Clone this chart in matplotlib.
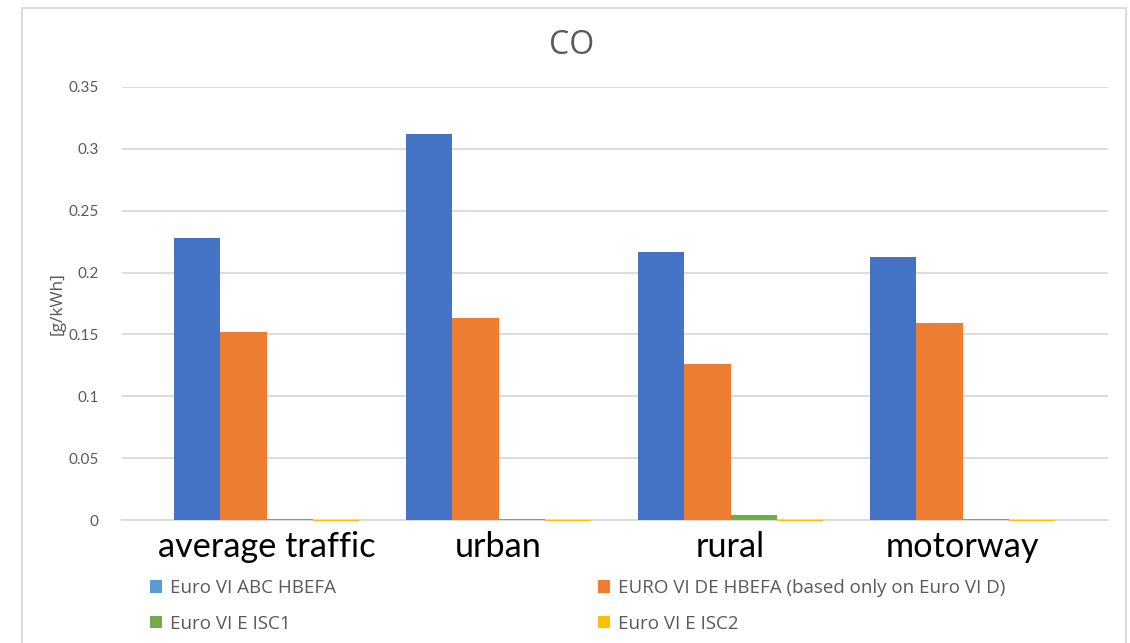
import numpy as np
import matplotlib.pyplot as plt
from matplotlib.lines import Line2D

plt.rcParams['font.family'] = ['Lato', 'DejaVu Sans']

# -------------------------------------------------------------------------

categories = ['average traffic', 'urban', 'rural', 'motorway']

series_names = ['Euro VI ABC HBEFA',
                'EURO VI DE HBEFA (based only on Euro VI D)',
                'Euro VI E ISC1',
                'Euro VI E ISC2']

abc_hbefa = [0.228, 0.312, 0.217, 0.2125]
de_hbefa = [0.152, 0.163, 0.126, 0.1595]
e_isc1 = [0.0007, 0.0007, 0.0042, 0.0006]
e_isc2 = [-0.0008, -0.0008, -0.0011, -0.0006]

yticks = [0, 0.05, 0.1, 0.15, 0.2, 0.25, 0.3, 0.35]
ytick_labels = ['0', '0.05', '0.1', '0.15', '0.2', '0.25', '0.3', '0.35']

# -------------------------------------------------------------------------

colors = ['#4472C4', '#ED7D31', '#70AD47', '#FFC000']
grid = '#d9d9d9'
text_grey = '#595959'
sans = ['Open Sans', 'DejaVu Sans']

fig = plt.figure(figsize=(11.30, 6.43), dpi=100)
ax = fig.add_axes([122/1130., 1 - 520/643., (1108-122)/1130., 433/643.])

x = np.arange(len(categories))
w = 0.2
bars = []
for i, vals in enumerate([abc_hbefa, de_hbefa, e_isc1, e_isc2]):
    b = ax.bar(x + (i - 1.5)*w, vals, w, color=colors[i], label=series_names[i],
               zorder=3, clip_on=False)
    bars.append(b)

ax.set_ylim(0, 0.35)
ax.set_xlim(-0.623, 3.627)
ax.set_yticks(yticks)
ax.set_yticklabels(ytick_labels)
ax.yaxis.grid(True, color=grid, linewidth=1.3)
ax.set_axisbelow(True)

for side in ['top', 'right', 'left']:
    ax.spines[side].set_visible(False)
ax.spines['bottom'].set_color(grid)
ax.spines['bottom'].set_linewidth(1.3)

ax.tick_params(axis='y', length=0, pad=17, labelsize=11, labelcolor=text_grey)
ax.tick_params(axis='x', length=0, pad=8)
ax.set_xticks(x)
ax.set_xticklabels(categories, fontsize=24.7, color='black')

ax.set_ylabel('[g/kWh]', fontsize=12.5, color=text_grey, family=sans)
ax.yaxis.set_label_coords(-0.0568, 0.5)

fig.text(572/1130., 1 - 45/643., 'CO', ha='center', va='center',
         fontsize=23, color=text_grey, family=sans)

# legend: row order ABC / DE, ISC1 / ISC2
order = [0, 2, 1, 3]
leg = fig.legend([bars[i] for i in order], [series_names[i] for i in order],
                 ncol=2, loc='upper left', bbox_to_anchor=(150/1130., 1 - 579/643.),
                 frameon=False, prop={'family': sans, 'size': 13.5}, labelcolor=text_grey,
                 handlelength=0.65, handleheight=0.65, handletextpad=0.4,
                 columnspacing=14.0, labelspacing=0.95, borderpad=0, borderaxespad=0)
leg.legend_handles[0].set_facecolor('#5B9BD5')

# chart area border
bx0, bx1, by = 22/1130., 1126/1130., 1 - 8/643.
for xs, ys in [([bx0, bx0], [0, by]), ([bx0, bx1], [by, by]), ([bx1, bx1], [by, 0])]:
    fig.add_artist(Line2D(xs, ys, color=grid, linewidth=1.3))

fig.savefig('out.png', dpi=100)
